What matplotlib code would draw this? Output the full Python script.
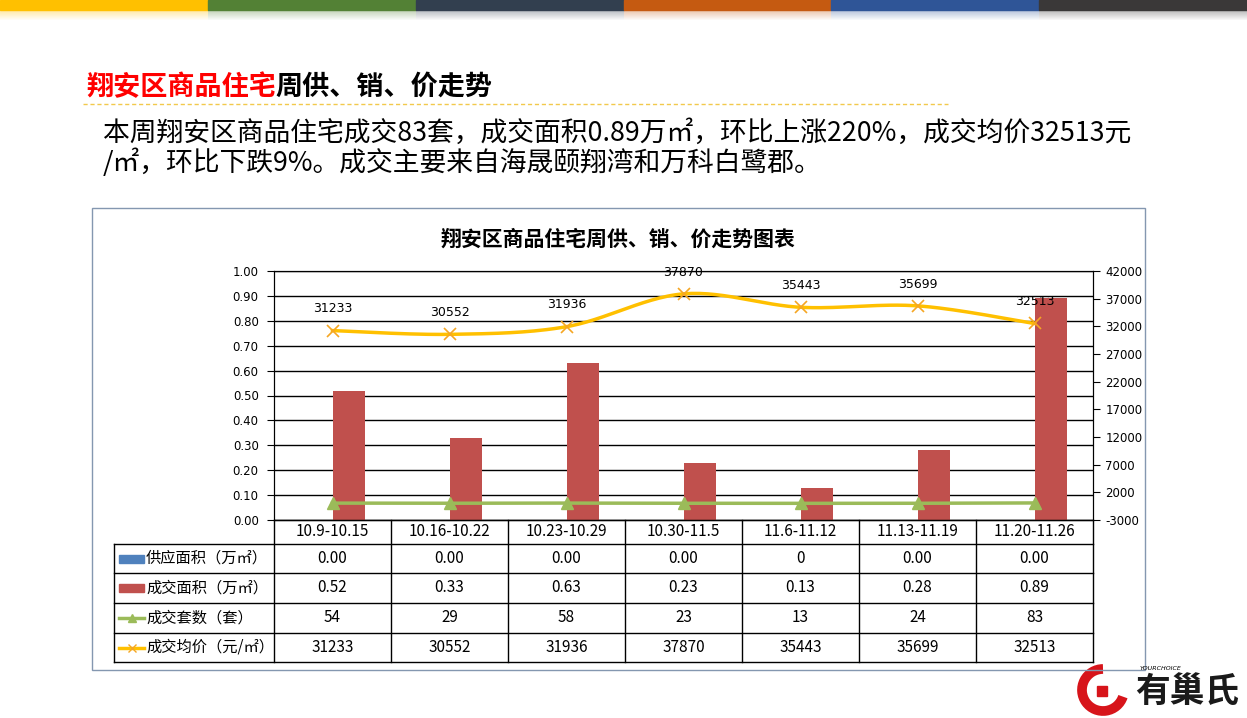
import numpy as np
import matplotlib
matplotlib.use("Agg")
import matplotlib.pyplot as plt
from matplotlib.patches import Rectangle, Arc

plt.rcParams['font.family'] = ['Noto Sans CJK SC', 'DejaVu Sans']

# Data
weeks = ["10.9-10.15", "10.16-10.22", "10.23-10.29", "10.30-11.5", "11.6-11.12", "11.13-11.19", "11.20-11.26"]
supply_area = [0.00, 0.00, 0.00, 0.00, 0.00, 0.00, 0.00]
supply_text = ["0.00", "0.00", "0.00", "0.00", "0", "0.00", "0.00"]
deal_area = [0.52, 0.33, 0.63, 0.23, 0.13, 0.28, 0.89]
deal_units = [54, 29, 58, 23, 13, 24, 83]
avg_price = [31233, 30552, 31936, 37870, 35443, 35699, 32513]

row_names = ["供应面积（万㎡）", "成交面积（万㎡）", "成交套数（套）", "成交均价（元/㎡）"]

W, H = 1247, 718
fig = plt.figure(figsize=(W / 100, H / 100), dpi=100)


def fx(px):
    return px / W


def fy(py):
    return 1 - py / H


# Header color strip
strip_colors = ["#FFC000", "#538135", "#323F4F", "#C55A11", "#2F5597", "#3A3838"]
seg = W / 6
for i, c in enumerate(strip_colors):
    fig.patches.append(Rectangle((fx(i * seg), fy(10)), fx(seg), 10 / H, color=c,
                                 transform=fig.transFigure, zorder=1))
    for k in range(10):
        fig.patches.append(Rectangle((fx(i * seg), fy(11 + k)), fx(seg), 1 / H, color=c,
                                     alpha=0.35 * (1 - k / 10), lw=0,
                                     transform=fig.transFigure, zorder=1))

# Page heading
fig.text(fx(86), fy(87), "翔安区商品住宅", color="#FF0000", fontsize=19.5, fontweight="bold",
         va="center", ha="left")
fig.text(fx(86 + 7 * 27), fy(87), "周供、销、价走势", color="black", fontsize=19.5,
         fontweight="bold", va="center", ha="left")
fig.add_artist(plt.Line2D([fx(83), fx(948)], [fy(104), fy(104)], color="#F2C94C",
                          lw=1, ls=(0, (3, 2)), transform=fig.transFigure))

fig.text(fx(103), fy(133), "本周翔安区商品住宅成交83套，成交面积0.89万㎡，环比上涨220%，成交均价32513元",
         fontsize=19.3, va="center", ha="left")
fig.text(fx(103), fy(163), "/㎡，环比下跌9%。成交主要来自海晟颐翔湾和万科白鹭郡。",
         fontsize=19.3, va="center", ha="left")

# Chart frame
fig.patches.append(Rectangle((fx(92), fy(670)), fx(1145 - 92), (670 - 208) / H, fill=False,
                             edgecolor="#8497B0", lw=1, transform=fig.transFigure))
fig.text(fx(618), fy(239), "翔安区商品住宅周供、销、价走势图表", fontsize=15, fontweight="bold",
         ha="center", va="center")

# Axes
left, right, top, bottom = 274, 1093, 271, 520
ax = fig.add_axes([fx(left), fy(bottom), fx(right - left), (bottom - top) / H])
ax2 = ax.twinx()

x = np.arange(len(weeks))
bw = 0.28
ax.bar(x - bw / 2, supply_area, bw, color="#4F81BD", zorder=3)
ax.bar(x + bw / 2, deal_area, bw, color="#C0504D", zorder=3)
ax.set_xlim(-0.5, len(weeks) - 0.5)
ax.set_ylim(0, 1.0)
ax.set_yticks(np.arange(0, 1.01, 0.1))
ax.set_yticklabels([f"{v:.2f}" for v in np.arange(0, 1.01, 0.1)], fontsize=8.5,
                   family="DejaVu Sans")
ax.yaxis.grid(True, color="black", lw=1)
ax.set_axisbelow(True)
ax.set_xticks([])
for s in ax.spines.values():
    s.set_color("black")
ax.tick_params(axis="y", length=5, color="black", pad=6)


def smooth(xs, ys, n=30):
    pts = np.column_stack([xs, ys]).astype(float)
    out = []
    for i in range(len(pts) - 1):
        p0 = pts[i - 1] if i > 0 else pts[i]
        p1, p2 = pts[i], pts[i + 1]
        p3 = pts[i + 2] if i + 2 < len(pts) else pts[i + 1]
        t = np.linspace(0, 1, n)[:, None]
        seg_pts = 0.5 * ((2 * p1) + (-p0 + p2) * t + (2 * p0 - 5 * p1 + 4 * p2 - p3) * t ** 2
                         + (-p0 + 3 * p1 - 3 * p2 + p3) * t ** 3)
        out.append(seg_pts)
    out = np.vstack(out)
    return out[:, 0], out[:, 1]


sx, sy = smooth(x, avg_price)
ax2.plot(sx, sy, color="#FFC000", lw=2.5, zorder=4)
ax2.plot(x, avg_price, ls="none", marker="x", ms=9, mew=1.2, color="#F5A623", zorder=5)
ax2.plot(x, deal_units, color="#9BBB59", lw=2.5, marker="^", ms=8, zorder=4)
for xi, v in zip(x, avg_price):
    ax2.annotate(str(v), (xi, v), xytext=(0, 11), textcoords="offset points",
                 ha="center", va="bottom", fontsize=9, family="DejaVu Sans")
ax2.set_ylim(-3000, 42000)
ax2.set_yticks(np.arange(-3000, 42001, 5000))
ax2.set_yticklabels([str(v) for v in np.arange(-3000, 42001, 5000)], fontsize=8.5,
                    family="DejaVu Sans")
ax2.tick_params(axis="y", length=5, color="black", pad=4)
for s in ax2.spines.values():
    s.set_color("black")

# Data table
col_w = (right - left) / len(weeks)
row_lines = [520, 544, 573, 603, 633, 662]
tab_left = 114
lc = "black"


def hline(x0, x1, y):
    fig.add_artist(plt.Line2D([fx(x0), fx(x1)], [fy(y), fy(y)], color=lc, lw=1,
                              transform=fig.transFigure))


def vline(xp, y0, y1):
    fig.add_artist(plt.Line2D([fx(xp), fx(xp)], [fy(y0), fy(y1)], color=lc, lw=1,
                              transform=fig.transFigure))


hline(left, right, 520)
for y in row_lines[1:]:
    hline(tab_left, right, y)
for j in range(len(weeks) + 1):
    vline(left + j * col_w, 520, 662)
vline(tab_left, 544, 662)

for j, w in enumerate(weeks):
    fig.text(fx(left + (j + 0.5) * col_w), fy(532), w, fontsize=11, ha="center", va="center")

rows = [supply_text,
        [f"{v:.2f}" for v in deal_area],
        [str(v) for v in deal_units],
        [str(v) for v in avg_price]]
for r, vals in enumerate(rows):
    yc = (row_lines[r + 1] + row_lines[r + 2]) / 2
    for j, v in enumerate(vals):
        fig.text(fx(left + (j + 0.5) * col_w), fy(yc), v, fontsize=11, ha="center",
                 va="center")
    fig.text(fx(146), fy(yc), row_names[r], fontsize=11, ha="left", va="center")

# legend keys in table
key_cols = ["#4F81BD", "#C0504D", "#9BBB59", "#FFC000"]
for r in range(4):
    yc = (row_lines[r + 1] + row_lines[r + 2]) / 2
    if r < 2:
        fig.patches.append(Rectangle((fx(119), fy(yc + 4)), fx(25), 8 / H, color=key_cols[r],
                                     transform=fig.transFigure))
    else:
        fig.add_artist(plt.Line2D([fx(119), fx(144)], [fy(yc), fy(yc)], color=key_cols[r],
                                  lw=2.5, transform=fig.transFigure))
        mk = "^" if r == 2 else "x"
        fig.add_artist(plt.Line2D([fx(131.5)], [fy(yc)], color=key_cols[r] if r == 2 else "#F5A623",
                                  marker=mk, ms=6, transform=fig.transFigure))

# Logo
fig.add_artist(Arc((fx(1103), fy(690)), 42 / W, 42 / H, theta1=90, theta2=330,
                   color="#D7141A", lw=7, transform=fig.transFigure))
fig.patches.append(Rectangle((fx(1097), fy(696)), fx(10), 10 / H, color="#D7141A",
                             transform=fig.transFigure))
fig.text(fx(1140), fy(668), "YOURCHOICE", fontsize=4.5, style="italic", ha="left", va="center",
         family="DejaVu Sans")
fig.text(fx(1187), fy(691), "有巢氏", fontsize=25, fontweight="bold", ha="center", va="center",
         color="#1A1A1A")

fig.savefig("out.png", dpi=100)
